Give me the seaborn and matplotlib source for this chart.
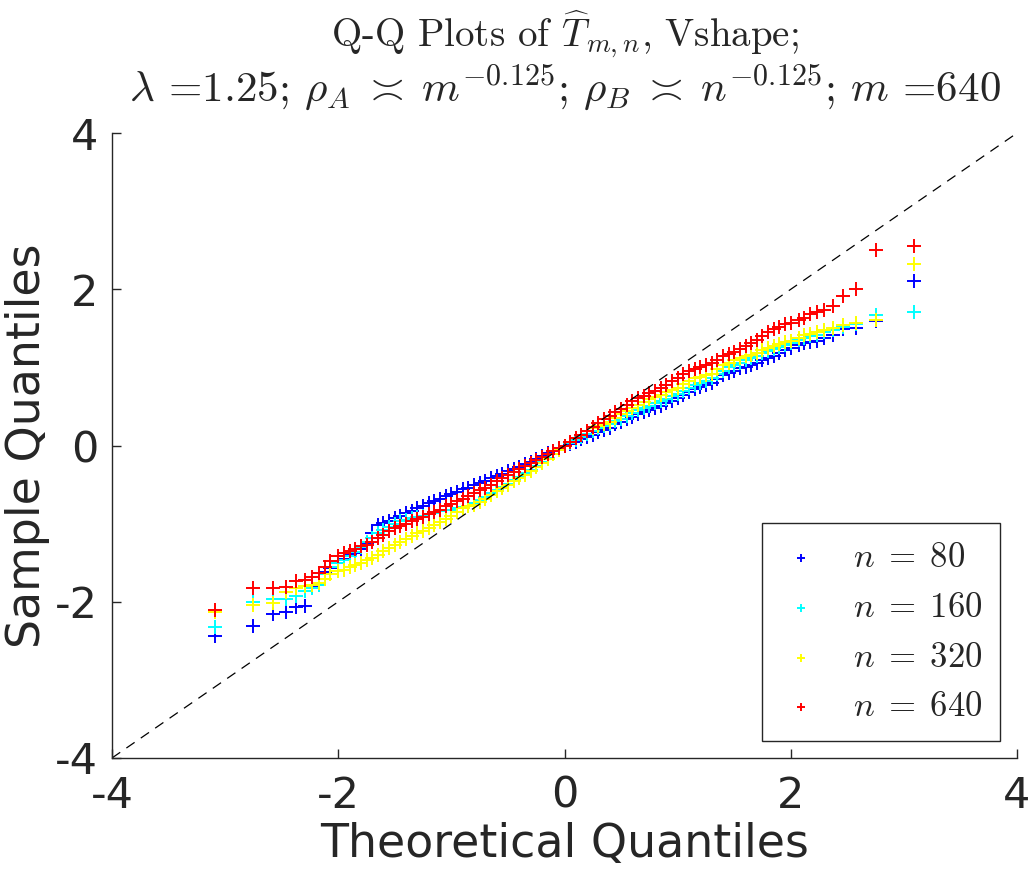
import matplotlib
matplotlib.use("Agg")
import matplotlib.pyplot as plt
import numpy as np
import pandas as pd
import seaborn as sns

# theoretical quantiles (shared by all four series)
x_lo = [-3.09, -2.75, -2.58, -2.46, -2.37, -2.29, -2.23, -2.17, -2.12, -2.07]
x_mid = [-2.00, -1.95, -1.90, -1.85, -1.80, -1.75, -1.70, -1.65, -1.60, -1.55,
         -1.50, -1.45, -1.40, -1.35, -1.30, -1.25, -1.20, -1.15, -1.10, -1.05,
         -1.00, -0.95, -0.90, -0.85, -0.80, -0.75, -0.70, -0.65, -0.60, -0.55,
         -0.50, -0.45, -0.40, -0.35, -0.30, -0.25, -0.20, -0.15, -0.10, -0.05,
         0.00, 0.05, 0.10, 0.15, 0.20, 0.25, 0.30, 0.35, 0.40, 0.45,
         0.50, 0.55, 0.60, 0.65, 0.70, 0.75, 0.80, 0.85, 0.90, 0.95,
         1.00, 1.05, 1.10, 1.15, 1.20, 1.25, 1.30, 1.35, 1.40, 1.45,
         1.50, 1.55, 1.60, 1.65, 1.70, 1.75, 1.80, 1.85, 1.90, 1.95, 2.00]
x_hi = [2.07, 2.12, 2.17, 2.23, 2.29, 2.37, 2.46, 2.58, 2.75, 3.09]
theo = x_lo + x_mid + x_hi

# sample quantiles
q80 = ([-2.44, -2.31, -2.16, -2.13, -2.07, -2.05, -1.80, -1.78, -1.62, -1.57] +
       [-1.50, -1.45, -1.40, -1.37, -1.33, -1.25, -1.12, -1.02, -0.99, -0.96,
        -0.93, -0.90, -0.87, -0.84, -0.80, -0.77, -0.74, -0.71, -0.68, -0.65,
        -0.62, -0.59, -0.56, -0.54, -0.51, -0.48, -0.45, -0.42, -0.39, -0.36,
        -0.33, -0.30, -0.27, -0.24, -0.21, -0.17, -0.14, -0.10, -0.07, -0.04,
        -0.01, 0.02, 0.05, 0.08, 0.11, 0.14, 0.17, 0.20, 0.23, 0.27,
        0.30, 0.34, 0.37, 0.40, 0.43, 0.46, 0.48, 0.51, 0.54, 0.57,
        0.61, 0.65, 0.69, 0.72, 0.75, 0.77, 0.80, 0.85, 0.90, 0.93,
        0.96, 0.99, 1.01, 1.03, 1.05, 1.09, 1.12, 1.15, 1.18, 1.22, 1.25] +
       [1.29, 1.31, 1.33, 1.34, 1.38, 1.42, 1.49, 1.50, 1.60, 2.10])
q160 = ([-2.32, -2.00, -1.96, -1.96, -1.92, -1.86, -1.82, -1.78, -1.64, -1.56] +
        [-1.50, -1.46, -1.42, -1.36, -1.30, -1.24, -1.18, -1.12, -1.08, -1.04,
         -1.00, -0.97, -0.95, -0.93, -0.91, -0.90, -0.88, -0.86, -0.84, -0.83,
         -0.82, -0.80, -0.79, -0.77, -0.74, -0.70, -0.66, -0.61, -0.57, -0.53,
         -0.49, -0.44, -0.40, -0.35, -0.31, -0.26, -0.21, -0.16, -0.11, -0.06,
         -0.01, 0.03, 0.07, 0.11, 0.15, 0.19, 0.22, 0.25, 0.27, 0.31,
         0.34, 0.38, 0.42, 0.45, 0.48, 0.51, 0.54, 0.57, 0.60, 0.63,
         0.66, 0.70, 0.74, 0.77, 0.80, 0.83, 0.86, 0.91, 0.96, 1.00,
         1.03, 1.06, 1.09, 1.12, 1.14, 1.18, 1.21, 1.24, 1.26, 1.29, 1.31] +
        [1.35, 1.37, 1.40, 1.42, 1.45, 1.48, 1.52, 1.55, 1.67, 1.71])
q320 = ([-2.13, -2.04, -2.01, -1.87, -1.83, -1.80, -1.79, -1.76, -1.71, -1.65] +
        [-1.61, -1.59, -1.56, -1.53, -1.50, -1.47, -1.44, -1.40, -1.35, -1.31,
         -1.27, -1.23, -1.20, -1.16, -1.12, -1.09, -1.06, -1.02, -0.98, -0.94,
         -0.90, -0.85, -0.80, -0.78, -0.76, -0.72, -0.68, -0.63, -0.58, -0.54,
         -0.50, -0.46, -0.42, -0.38, -0.33, -0.28, -0.22, -0.17, -0.11, -0.06,
         -0.01, 0.04, 0.09, 0.14, 0.18, 0.22, 0.25, 0.28, 0.30, 0.35,
         0.40, 0.44, 0.48, 0.52, 0.56, 0.59, 0.62, 0.65, 0.68, 0.71,
         0.74, 0.79, 0.83, 0.86, 0.88, 0.90, 0.92, 0.98, 1.03, 1.06,
         1.09, 1.12, 1.14, 1.16, 1.18, 1.22, 1.25, 1.28, 1.30, 1.32, 1.34] +
        [1.38, 1.41, 1.43, 1.45, 1.48, 1.51, 1.54, 1.57, 1.61, 2.32])
q640 = ([-2.10, -1.83, -1.83, -1.81, -1.74, -1.72, -1.68, -1.63, -1.56, -1.48] +
        [-1.42, -1.38, -1.35, -1.32, -1.29, -1.27, -1.24, -1.19, -1.15, -1.10,
         -1.06, -1.03, -1.00, -0.97, -0.94, -0.91, -0.88, -0.85, -0.82, -0.78,
         -0.75, -0.71, -0.68, -0.64, -0.61, -0.57, -0.54, -0.50, -0.46, -0.42,
         -0.38, -0.34, -0.30, -0.26, -0.22, -0.18, -0.15, -0.11, -0.07, -0.03,
         0.00, 0.05, 0.09, 0.14, 0.19, 0.24, 0.29, 0.34, 0.38, 0.43,
         0.47, 0.52, 0.57, 0.61, 0.64, 0.67, 0.70, 0.74, 0.78, 0.82,
         0.86, 0.91, 0.95, 0.98, 1.01, 1.03, 1.06, 1.10, 1.14, 1.17,
         1.20, 1.24, 1.28, 1.31, 1.35, 1.40, 1.45, 1.49, 1.52, 1.55, 1.57] +
        [1.61, 1.63, 1.68, 1.71, 1.74, 1.78, 1.91, 2.00, 2.50, 2.55])

sizes = [80, 160, 320, 640]
colors = ['#0000ff', '#00ffff', '#ffff00', '#ff0000']
ticks = [-4, -2, 0, 2, 4]

sns.set_style('ticks')
plt.rcParams['font.family'] = ['DejaVu Sans']
plt.rcParams['mathtext.fontset'] = 'cm'

df = pd.DataFrame({
    'theo': theo * 4,
    'sample': q80 + q160 + q320 + q640,
    'n': np.repeat(sizes, len(theo)),
})

fig = plt.figure(figsize=(10.32, 8.77), dpi=100)
ax = fig.add_axes([0.1085, 0.1357, 0.877, 0.7126])

for n, c in zip(sizes, colors):
    sub = df[df['n'] == n]
    sns.scatterplot(data=sub, x='theo', y='sample', marker='+', color=c,
                    s=95, linewidth=1.4, label=r'$n\;=\;%d$' % n, ax=ax)

ax.axline((0, 0), slope=1, color='k', lw=0.9, ls=(0, (8, 6)), zorder=1)

ax.set_xlim(-4, 4)
ax.set_ylim(-4, 4)
ax.set_xticks(ticks)
ax.set_yticks(ticks)
ax.set_xticklabels([str(t) for t in ticks])
ax.set_yticklabels([str(t) for t in ticks])
ax.tick_params(direction='in', length=6.5, width=1, colors='0.15',
               labelsize=31)
ax.tick_params(axis='x', pad=12)
ax.tick_params(axis='y', pad=10)
for side in ['top', 'right']:
    ax.spines[side].set_visible(False)
for side in ['left', 'bottom']:
    ax.spines[side].set_color('0.15')
    ax.spines[side].set_linewidth(1)

ax.set_xlabel('Theoretical Quantiles', fontsize=33, color='0.15', labelpad=4)
ax.set_ylabel('Sample Quantiles', fontsize=33, color='0.15', labelpad=4)

# two-line title, written as two texts so each line can be sized on its own
cx = 0.1085 + 0.877 / 2
fig.text(cx, 1 - 46 / 877, r'Q-Q Plots of $\widehat{T}_{m,n}$, Vshape;',
         fontsize=28, fontfamily='cmr10', ha='center', va='baseline')
fig.text(cx, 1 - 101 / 877,
         r'$\lambda$ =1.25; $\rho_A\;\asymp\;m^{-0.125}$; '
         r'$\rho_B\;\asymp\;n^{-0.125}$; $m$ =640',
         fontsize=31, fontfamily='cmr10', ha='center', va='baseline')

leg = ax.legend(loc='lower right', fontsize=25, frameon=True, fancybox=False,
                edgecolor='0.15', framealpha=1, borderpad=0.5,
                labelspacing=0.45, handlelength=1.2, handletextpad=0.9,
                borderaxespad=0.5, markerscale=0.6)
leg.get_frame().set_linewidth(1)

fig.savefig('out.png', dpi=100)
